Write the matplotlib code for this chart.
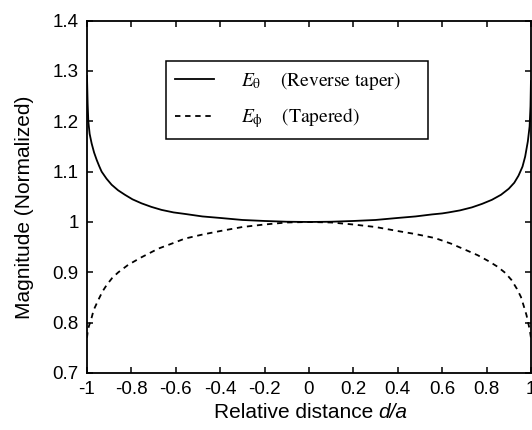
import matplotlib
matplotlib.use("Agg")
import matplotlib.pyplot as plt

# values
x_theta = [-1.0, -0.997, -0.994, -0.988, -0.979, -0.968, -0.956, -0.945, -0.934,
           -0.912, -0.889, -0.86, -0.829, -0.795, -0.754, -0.71, -0.664, -0.61,
           -0.559, -0.48, -0.4, -0.3, -0.2, -0.1, 0.0, 0.1, 0.2, 0.3, 0.4, 0.48,
           0.554, 0.6, 0.629, 0.68, 0.734, 0.78, 0.824, 0.865, 0.9, 0.925, 0.944,
           0.962, 0.974, 0.986, 0.994, 0.998, 1.0]
e_theta = [1.29, 1.235, 1.20, 1.175, 1.156, 1.138, 1.123, 1.111, 1.10,
           1.086, 1.074, 1.063, 1.054, 1.045, 1.037, 1.03, 1.024, 1.019,
           1.016, 1.011, 1.008, 1.004, 1.002, 1.0005, 1.0, 1.0005, 1.002, 1.004, 1.008, 1.011,
           1.015, 1.017, 1.019, 1.023, 1.029, 1.036, 1.044, 1.054, 1.066, 1.078, 1.092,
           1.11, 1.13, 1.16, 1.19, 1.23, 1.28]

x_phi = [-1.0, -0.996, -0.99, -0.982, -0.97, -0.949, -0.93, -0.911, -0.886, -0.859,
         -0.814, -0.754, -0.679, -0.618, -0.559, -0.48, -0.4, -0.3, -0.2, -0.1, 0.0,
         0.1, 0.2, 0.3, 0.4, 0.48, 0.568, 0.64, 0.703, 0.76, 0.81, 0.85, 0.884,
         0.912, 0.937, 0.955, 0.967, 0.98, 0.99, 0.996, 1.0]
e_phi = [0.77, 0.785, 0.795, 0.805, 0.825, 0.845, 0.862, 0.875, 0.889, 0.90,
         0.915, 0.93, 0.947, 0.957, 0.967, 0.975, 0.982, 0.99, 0.995, 0.999, 1.0,
         0.999, 0.995, 0.99, 0.982, 0.976, 0.968, 0.957, 0.945, 0.934, 0.922, 0.911, 0.899,
         0.885, 0.867, 0.851, 0.834, 0.815, 0.795, 0.782, 0.77]

labels = [r"$E_{\mathrm{\theta}}$" + "    (Reverse taper)",
          r"$E_{\mathrm{\phi}}$" + "    (Tapered)"]

plt.rcParams["font.family"] = ["Liberation Sans", "DejaVu Sans"]
plt.rcParams["mathtext.fontset"] = "stix"

fig = plt.figure(figsize=(5.32, 4.30), dpi=100)
ax = fig.add_axes([0.1635, 0.1326, 0.8345, 0.8194])

ax.plot(x_theta, e_theta, color="black", linewidth=1.3, label=labels[0])
ax.plot(x_phi, e_phi, color="black", linewidth=1.3, dashes=(3, 2.6), label=labels[1])

ax.set_xlim(-1, 1)
ax.set_ylim(0.7, 1.4)
ax.set_xticks([-1, -0.8, -0.6, -0.4, -0.2, 0, 0.2, 0.4, 0.6, 0.8, 1])
ax.set_xticklabels(["-1", "-0.8", "-0.6", "-0.4", "-0.2", "0", "0.2", "0.4", "0.6", "0.8", "1"])
ax.set_yticks([0.7, 0.8, 0.9, 1.0, 1.1, 1.2, 1.3, 1.4])
ax.set_yticklabels(["0.7", "0.8", "0.9", "1", "1.1", "1.2", "1.3", "1.4"])
ax.tick_params(direction="in", top=True, right=True, length=4, width=1.1,
               labelsize=13.5, pad=6)
for s in ax.spines.values():
    s.set_linewidth(1.3)

# x label: sans text with an italic sans "d/a" after it
xl = ax.text(0.471, -0.113, "Relative distance ", transform=ax.transAxes,
             fontsize=15, ha="center", va="center")
ax.annotate("d/a", xy=(1, 0), xycoords=xl, fontsize=15, style="italic",
            ha="left", va="bottom")

ax.set_ylabel("Magnitude (Normalized)", fontsize=15)
ax.yaxis.set_label_coords(-0.12, 0.47)

leg = ax.legend(loc="upper left", bbox_to_anchor=(0.178, 0.687, 0.59, 0.198),
                mode="expand", fancybox=False,
                framealpha=1, edgecolor="black", handlelength=2.0, handletextpad=1.4,
                borderpad=0.45, labelspacing=0.75, borderaxespad=0,
                prop={"family": "STIXGeneral", "size": 14})
leg.get_frame().set_linewidth(1.1)

fig.savefig("out.png", dpi=100)
